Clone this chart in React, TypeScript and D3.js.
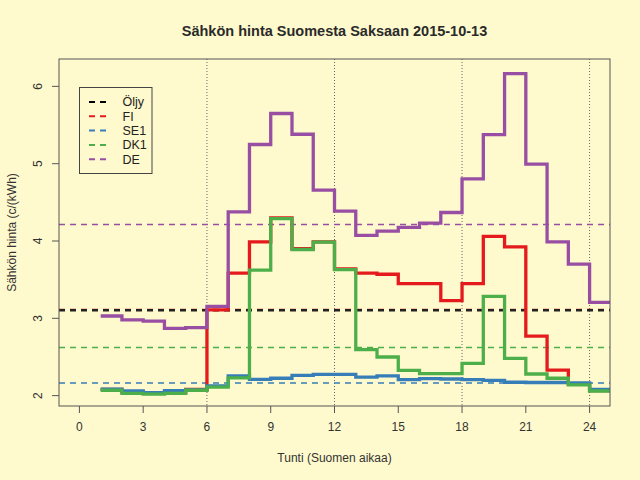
import React from "react";
import * as d3 from "d3";

const hours = d3.range(1, 25);
const fi = [2.08, 2.05, 2.04, 2.04, 2.08, 3.11, 3.585, 3.99, 4.30, 3.90, 3.99, 3.64, 3.585, 3.57, 3.45, 3.45, 3.23, 3.45, 4.06, 3.925, 2.77, 2.33, 2.15, 2.065];
const se1 = [2.085, 2.06, 2.04, 2.065, 2.075, 2.125, 2.255, 2.21, 2.225, 2.263, 2.276, 2.276, 2.24, 2.255, 2.207, 2.22, 2.215, 2.207, 2.198, 2.173, 2.17, 2.17, 2.164, 2.08];
const dk1 = [2.07, 2.03, 2.02, 2.03, 2.07, 2.11, 2.23, 3.624, 4.29, 3.89, 3.986, 3.63, 2.595, 2.50, 2.328, 2.285, 2.285, 2.418, 3.284, 2.483, 2.28, 2.225, 2.138, 2.06];
const de = [3.03, 2.98, 2.965, 2.87, 2.88, 3.155, 4.377, 5.248, 5.649, 5.381, 4.658, 4.386, 4.072, 4.128, 4.175, 4.231, 4.369, 4.804, 5.377, 6.165, 4.994, 3.99, 3.70, 3.207];

const seriesNames = ["FI", "SE1", "DK1", "DE"];
const seriesValues = [fi, se1, dk1, de];
const seriesColors = ["#E41A1C", "#377EB8", "#4DAF4A", "#984EA3"];
const averages = [3.115, 2.162, 2.622, 4.215];
const oilName = "Öljy";
const oilPrice = 3.104;

const legendNames = [oilName, ...seriesNames];
const legendColors = ["#000000", ...seriesColors];

const xTicks = [0, 3, 6, 9, 12, 15, 18, 21, 24];
const yTicks = [2, 3, 4, 5, 6];
const gridHours = [6, 12, 18, 24];

const title = "Sähkön hinta Suomesta Saksaan 2015-10-13";
const xLabel = "Tunti (Suomen aikaa)";
const yLabel = "Sähkön hinta (c/(kWh)";

const W = 640, H = 480;
const L = 59, R = 610, T = 59, B = 406;
const font = "'Liberation Sans', Arial, Helvetica, sans-serif";
const bg = "#FFFACD";

export default function App() {
  const x = d3.scaleLinear().domain([-0.96, 24.96]).range([L, R]);
  const y = d3.scaleLinear().domain([1.866, 6.354]).range([B, T]);

  const line = d3
    .line<[number, number]>()
    .x((d) => x(d[0]))
    .y((d) => y(d[1]))
    .curve(d3.curveStepAfter);

  const pathFor = (vals: number[]) => {
    const pts: [number, number][] = hours.map((h, i) => [h, vals[i]]);
    pts.push([25, vals[vals.length - 1]]);
    return line(pts) || "";
  };

  return (
    <div style={{ position: "absolute", left: 0, top: 0 }}>
      <svg width={W} height={H} style={{ display: "block" }} fontFamily={font}>
        <defs>
          <clipPath id="plotclip">
            <rect x={L} y={T} width={R - L} height={B - T} />
          </clipPath>
        </defs>
        <rect x={0} y={0} width={W} height={H} fill={bg} />

        {gridHours.map((h) => (
          <line key={h} x1={x(h)} x2={x(h)} y1={T} y2={B} stroke="#666" strokeWidth={1} strokeDasharray="1,2" />
        ))}

        <g clipPath="url(#plotclip)">
          {averages.map((a, i) => (
            <line key={"a" + i} x1={L} x2={R} y1={y(a)} y2={y(a)} stroke={seriesColors[i]} strokeWidth={1.5} strokeDasharray="6,5" />
          ))}
          <line x1={L} x2={R} y1={y(oilPrice)} y2={y(oilPrice)} stroke="#222" strokeWidth={2.5} strokeDasharray="6,5" />
          {seriesValues.map((vals, i) => (
            <path key={"s" + i} d={pathFor(vals)} fill="none" stroke={seriesColors[i]} strokeWidth={3.3} strokeLinejoin="miter" strokeLinecap="butt" />
          ))}
        </g>

        <rect x={L} y={T} width={R - L} height={B - T} fill="none" stroke="#555" strokeWidth={1} />

        {xTicks.map((t) => (
          <g key={"x" + t}>
            <line x1={x(t)} x2={x(t)} y1={B} y2={B + 7} stroke="#555" />
            <text x={x(t)} y={B + 25} textAnchor="middle" fontSize={12} fill="#333">{t}</text>
          </g>
        ))}
        {yTicks.map((t) => (
          <g key={"y" + t}>
            <line x1={L - 7} x2={L} y1={y(t)} y2={y(t)} stroke="#555" />
            <text transform={`translate(${L - 17},${y(t)}) rotate(-90)`} textAnchor="middle" fontSize={12} fill="#333">{t}</text>
          </g>
        ))}

        <text x={(L + R) / 2} y={36} textAnchor="middle" fontSize={14.5} fontWeight="bold" fill="#2a2a2a">{title}</text>
        <text x={(L + R) / 2} y={462} textAnchor="middle" fontSize={12} fill="#333">{xLabel}</text>
        <text transform={`translate(16,${(T + B) / 2}) rotate(-90)`} textAnchor="middle" fontSize={12} fill="#333">{yLabel}</text>

        <rect x={79.5} y={87.5} width={72.5} height={86} fill={bg} stroke="#444" strokeWidth={1} />
        {legendNames.map((n, i) => (
          <g key={"l" + n}>
            <line x1={89} x2={110} y1={102 + i * 14.3} y2={102 + i * 14.3} stroke={legendColors[i]} strokeWidth={2} strokeDasharray="6,5" />
            <text x={122.5} y={106.3 + i * 14.3} fontSize={12.5} fill="#222">{n}</text>
          </g>
        ))}
      </svg>
    </div>
  );
}
